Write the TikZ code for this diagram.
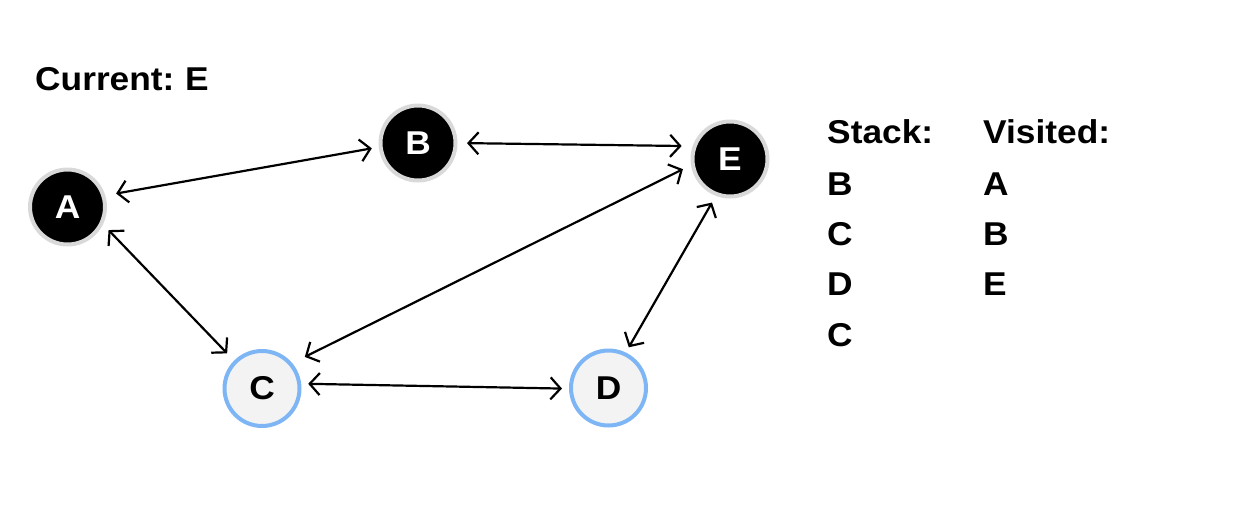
\documentclass[tikz,border=0pt]{standalone}
\usepackage{fontspec}
\setmainfont[FakeStretch=1.07,WordSpace=0.75]{Liberation Sans}
\usetikzlibrary{arrows.meta}
\tikzset{barb/.tip={Straight Barb[length=10pt,width=22pt,line width=2.2pt]}}
\begin{document}
\begin{tikzpicture}[x=1pt,y=-1pt,
  vertex/.style={circle, minimum size=75pt, inner sep=0pt, line width=4pt,
    font=\fontsize{33}{33}\selectfont\bfseries},
  done/.style={vertex, fill=black, draw=ringgray, text=white},
  pending/.style={vertex, fill=pendfill, draw=pendblue, text=black},
  edge/.style={line width=2.2pt, barb-barb},
  label/.style={anchor=base west, inner sep=0pt, font=\fontsize{33}{33}\selectfont\bfseries}
]
\definecolor{ringgray}{HTML}{D9D9D9}
\definecolor{pendblue}{HTML}{7EB6F5}
\definecolor{pendfill}{HTML}{F3F3F3}
\useasboundingbox (0,0) rectangle (1245,504);

% graph vertices
\node[done] (A) at (67.5,207) {A};
\node[done] (B) at (418,143) {B};
\node[done] (E) at (730,159) {E};
\node[pending] (C) at (262,388.5) {C};
\node[pending] (D) at (608.5,388) {D};

% undirected edges, drawn with tips at both ends
\draw[edge, shorten <=11pt, shorten >=7pt] (A.17) -- (B.186);
\draw[edge, shorten <=8pt, shorten >=10pt] (A.-26) -- (C.135);
\draw[edge, shorten <=14pt, shorten >=9pt] (C.40) -- (E.189.5);
\draw[edge, shorten <=9.5pt, shorten >=11pt] (B.0) -- (E.161.6);
\draw[edge, shorten <=7.7pt, shorten >=6pt] (E.249) -- (D.64.6);
\draw[edge, shorten <=7pt, shorten >=7pt] (C.7) -- (D.181);

% traversal state
\node[label] (cur) at (35,90) {Current: E};
\node[label] (sh) at (827,143) {Stack:};
\node[label] (s1) at (827,195) {B};
\node[label] (s2) at (827,245) {C};
\node[label] (s3) at (827,295) {D};
\node[label] (s4) at (827,346) {C};
\node[label] (vh) at (983,143) {Visited:};
\node[label] (v1) at (983,195) {A};
\node[label] (v2) at (983,245) {B};
\node[label] (v3) at (983,295) {E};
\end{tikzpicture}
\end{document}
